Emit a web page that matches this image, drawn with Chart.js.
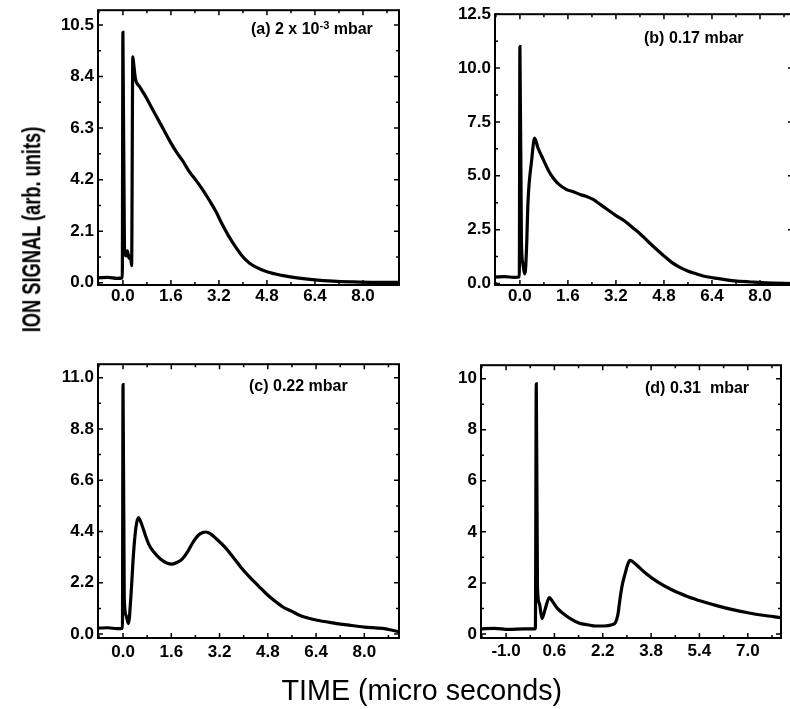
<!DOCTYPE html>
<html><head><meta charset="utf-8">
<script src="https://cdn.jsdelivr.net/npm/chart.js@4"></script>
<style>
html,body{margin:0;padding:0;background:#fff;overflow:hidden;width:790px;height:709px;}
body{position:relative;font-family:'Liberation Sans',Arial,Helvetica,sans-serif;color:#000;}
.panel{position:absolute;}
.ann{position:absolute;font-weight:bold;font-size:16px;white-space:pre;line-height:1;transform:translateY(-50%);}
.ann sup{font-size:11px;vertical-align:5px;line-height:0;}
.title{position:absolute;white-space:nowrap;line-height:1;}
</style></head><body>
<script>
// ---------------- data ----------------
const xA = [-0.83,-0.5,-0.2,-0.02,0.0, 0.05,0.1,0.15,0.2,0.25, 0.29,0.33,0.36,0.42,0.55, 0.75,0.95,1.15,1.35,1.55, 1.77,2.0,2.2,2.45,2.65, 2.9,3.1,3.3,3.54,3.76, 3.98,4.2,4.42,4.8,5.3, 5.8,6.4,7.0,7.6,8.3, 9.2];
const yA = [0.2,0.22,0.18,0.2,10.2, 1.5,1.1,1.3,1.0,1.1, 0.7,9.2,8.9,8.3,8.0, 7.6,7.15,6.7,6.25,5.8, 5.35,4.95,4.55,4.15,3.8, 3.32,2.9,2.4,1.87,1.45, 1.08,0.82,0.65,0.45,0.3, 0.2,0.12,0.07,0.04,0.02, 0.02];

const xB = [-0.83,-0.5,-0.2,-0.02,0.0, 0.05,0.1,0.17,0.22,0.27, 0.39,0.49,0.6,0.78,0.95, 1.11,1.3,1.56,1.8,2.0, 2.2,2.44,2.7,2.95,3.2, 3.49,3.75,4.01,4.27,4.54, 4.8,5.06,5.3,5.59,5.85, 6.11,6.6,7.16,7.7,8.2, 9.1];
const yB = [0.3,0.32,0.28,0.3,11.0, 2.0,0.9,0.45,1.6,3.8, 5.7,6.75,6.3,5.75,5.25, 4.9,4.6,4.36,4.25,4.13, 4.05,3.9,3.65,3.4,3.15, 2.9,2.6,2.3,1.95,1.6, 1.28,0.98,0.77,0.58,0.46, 0.35,0.23,0.12,0.07,0.03, 0.0];

const xC = [-0.83,-0.5,-0.2,-0.02,0.0, 0.04,0.1,0.18,0.26,0.35, 0.43,0.51,0.62,0.75,0.85, 1.0,1.24,1.45,1.63,1.8, 1.96,2.15,2.35,2.55,2.75, 2.9,3.1,3.4,3.65,3.9, 4.2,4.5,4.75,5.0,5.3, 5.6,5.85,6.1,6.4,7.0, 7.5,8.0,8.6,9.15];
const yC = [0.25,0.27,0.23,0.25,10.7, 1.6,0.8,0.45,1.6,3.5, 4.6,5.0,4.7,4.2,3.86, 3.55,3.22,3.05,3.0,3.08, 3.22,3.55,4.0,4.3,4.38, 4.3,4.08,3.7,3.3,2.88, 2.44,2.05,1.73,1.45,1.16, 0.97,0.81,0.7,0.6,0.47, 0.38,0.3,0.24,0.1];

const xD = [-1.83,-1.4,-0.9,-0.4,-0.03, 0.0,0.04,0.1,0.19,0.3, 0.43,0.55,0.7,0.89,1.1, 1.43,1.7,1.97,2.25,2.5, 2.62,2.7,2.78,2.86,2.94, 3.02,3.1,3.3,3.6,4.0, 4.5,5.0,5.5,6.0,6.5, 7.0,7.5,8.1];
const yD = [0.2,0.22,0.18,0.2,0.2, 9.8,1.8,1.2,0.6,1.0, 1.42,1.25,1.0,0.8,0.62, 0.42,0.36,0.31,0.31,0.36, 0.45,0.75,1.45,2.0,2.36, 2.7,2.88,2.72,2.4,2.05, 1.72,1.47,1.27,1.1,0.95, 0.83,0.73,0.64];

const xTicksABC = [0, 1.6, 3.2, 4.8, 6.4, 8.0];
const xLabelsABC = ['0.0','1.6','3.2','4.8','6.4','8.0'];
const xTicksD = [-1.0, 0.6, 2.2, 3.8, 5.4, 7.0];
const xLabelsD = ['-1.0','0.6','2.2','3.8','5.4','7.0'];
const yTicksA = [0, 2.1, 4.2, 6.3, 8.4, 10.5];
const yLabelsA = ['0.0','2.1','4.2','6.3','8.4','10.5'];
const yTicksB = [0, 2.5, 5.0, 7.5, 10.0, 12.5];
const yLabelsB = ['0.0','2.5','5.0','7.5','10.0','12.5'];
const yTicksC = [0, 2.2, 4.4, 6.6, 8.8, 11.0];
const yLabelsC = ['0.0','2.2','4.4','6.6','8.8','11.0'];
const yTicksD = [0, 2, 4, 6, 8, 10];
const yLabelsD = ['0','2','4','6','8','10'];

const yTitle = 'ION SIGNAL (arb. units)';
const xTitle = 'TIME (micro seconds)';

// ---------------- layout ----------------
const panels = [
  {xs:xA, ys:yA, xMin:-0.83, xMax:9.2, yMin:-0.09, yMax:11.1, xTicks:xTicksABC, xLabels:xLabelsABC, yTicks:yTicksA, yLabels:yLabelsA,
   L:98, R:399, T:8, B:285, xPad:1, ann:'(a) 2 x 10<sup>-3</sup> mbar', annX:251, annY:29},
  {xs:xB, ys:yB, xMin:-0.83, xMax:9.1, yMin:-0.07, yMax:12.5, xTicks:xTicksABC, xLabels:xLabelsABC, yTicks:yTicksB, yLabels:yLabelsB,
   L:495, R:793, T:12, B:285, xPad:1, ann:'(b) 0.17 mbar', annX:644, annY:38},
  {xs:xC, ys:yC, xMin:-0.83, xMax:9.15, yMin:-0.17, yMax:11.58, xTicks:xTicksABC, xLabels:xLabelsABC, yTicks:yTicksC, yLabels:yLabelsC,
   L:98, R:399, T:362, B:638, xPad:4, ann:'(c) 0.22 mbar', annX:249, annY:386},
  {xs:xD, ys:yD, xMin:-1.83, xMax:8.1, yMin:-0.16, yMax:10.53, xTicks:xTicksD, xLabels:xLabelsD, yTicks:yTicksD, yLabels:yLabelsD,
   L:481, R:781, T:363, B:638, xPad:3, ann:'(d) 0.31  mbar', annX:645, annY:388}
];

Chart.defaults.font.family = "'Liberation Sans', Arial, Helvetica, sans-serif";
Chart.defaults.color = '#000';

function minors(ticks, lo, hi){
  const step = ticks[1]-ticks[0], out = [];
  for (let v = ticks[0]-step/2; v >= lo; v -= step) out.push(v);
  for (let v = ticks[0]+step/2; v <= hi; v += step) out.push(v);
  return out;
}

function makeChart(p){
  const YW = 60, XH = 40, PT = 12, PR = 12;
  const w = (p.R-p.L)+YW+PR, h = (p.B-p.T)+PT+XH;
  const div = document.createElement('div');
  div.className = 'panel';
  div.style.left = (p.L-YW)+'px'; div.style.top = (p.T-PT)+'px';
  div.style.width = w+'px'; div.style.height = h+'px';
  const c = document.createElement('canvas');
  c.width = w; c.height = h; c.style.width = w+'px'; c.style.height = h+'px';
  div.appendChild(c); document.body.appendChild(div);

  const xMinor = minors(p.xTicks, p.xMin, p.xMax);
  const yMinor = minors(p.yTicks, p.yMin, p.yMax);
  const frame = {
    id:'frame',
    afterDatasetsDraw(chart){
      const {ctx, chartArea:a, scales:{x, y}} = chart;
      ctx.save();
      ctx.strokeStyle = '#000';
      ctx.lineWidth = 1.5;
      ctx.beginPath();
      const vx = (v, len) => { const px = x.getPixelForValue(v); ctx.moveTo(px, a.bottom); ctx.lineTo(px, a.bottom-len); ctx.moveTo(px, a.top); ctx.lineTo(px, a.top+len); };
      const vy = (v, len) => { const py = y.getPixelForValue(v); ctx.moveTo(a.left, py); ctx.lineTo(a.left+len, py); ctx.moveTo(a.right, py); ctx.lineTo(a.right-len, py); };
      p.xTicks.forEach(v => vx(v, 5)); xMinor.forEach(v => vx(v, 3));
      p.yTicks.forEach(v => vy(v, 5)); yMinor.forEach(v => vy(v, 3));
      ctx.stroke();
      ctx.lineWidth = 2;
      ctx.strokeRect(a.left, a.top, a.right-a.left, a.bottom-a.top);
      ctx.restore();
    }
  };

  new Chart(c, {
    type:'line',
    data:{datasets:[{
      data:p.xs.map((x,i)=>({x:x, y:p.ys[i]})),
      borderColor:'#000', borderWidth:3.2, pointRadius:0, fill:false,
      cubicInterpolationMode:'monotone'
    }]},
    options:{
      responsive:false, animation:false, devicePixelRatio:1,
      layout:{padding:{top:PT, right:PR, bottom:0, left:0}},
      plugins:{legend:{display:false}, tooltip:{enabled:false}},
      scales:{
        x:{type:'linear', min:p.xMin, max:p.xMax,
           grid:{display:false, drawTicks:false}, border:{display:false},
           afterBuildTicks:s=>{ s.ticks = p.xTicks.map(v=>({value:v})); },
           afterFit:s=>{ s.height = XH; },
           ticks:{autoSkip:false, maxRotation:0, minRotation:0, padding:p.xPad, color:'#000',
                  font:{size:17, weight:'bold'}, callback:(v,i)=>p.xLabels[i]}},
        y:{type:'linear', min:p.yMin, max:p.yMax,
           grid:{display:false, drawTicks:false}, border:{display:false},
           afterBuildTicks:s=>{ s.ticks = p.yTicks.map(v=>({value:v})); },
           afterFit:s=>{ s.width = YW; },
           ticks:{autoSkip:false, padding:4, color:'#000',
                  font:{size:17, weight:'bold'}, callback:(v,i)=>p.yLabels[i]}}
      }
    },
    plugins:[frame]
  });

  const ann = document.createElement('div');
  ann.className = 'ann';
  ann.innerHTML = p.ann;
  ann.style.left = p.annX+'px'; ann.style.top = p.annY+'px';
  document.body.appendChild(ann);
}

panels.forEach(makeChart);

// shared axis titles
function addTitle(text, cx, cy, size, weight, targetW, rotate){
  const d = document.createElement('div');
  d.className = 'title';
  d.textContent = text;
  d.style.fontSize = size+'px';
  d.style.fontWeight = weight;
  document.body.appendChild(d);
  const w = d.offsetWidth, h = d.offsetHeight;
  const k = targetW / w;
  d.style.left = (cx - w/2)+'px';
  d.style.top = (cy - h/2)+'px';
  d.style.transform = (rotate ? 'rotate(-90deg) ' : '') + 'scaleX('+k.toFixed(3)+')';
}
addTitle(yTitle, 32, 229, 25, 'bold', 206, true);
addTitle(xTitle, 422, 690, 29, 'normal', 281, false);
</script>
</body></html>
